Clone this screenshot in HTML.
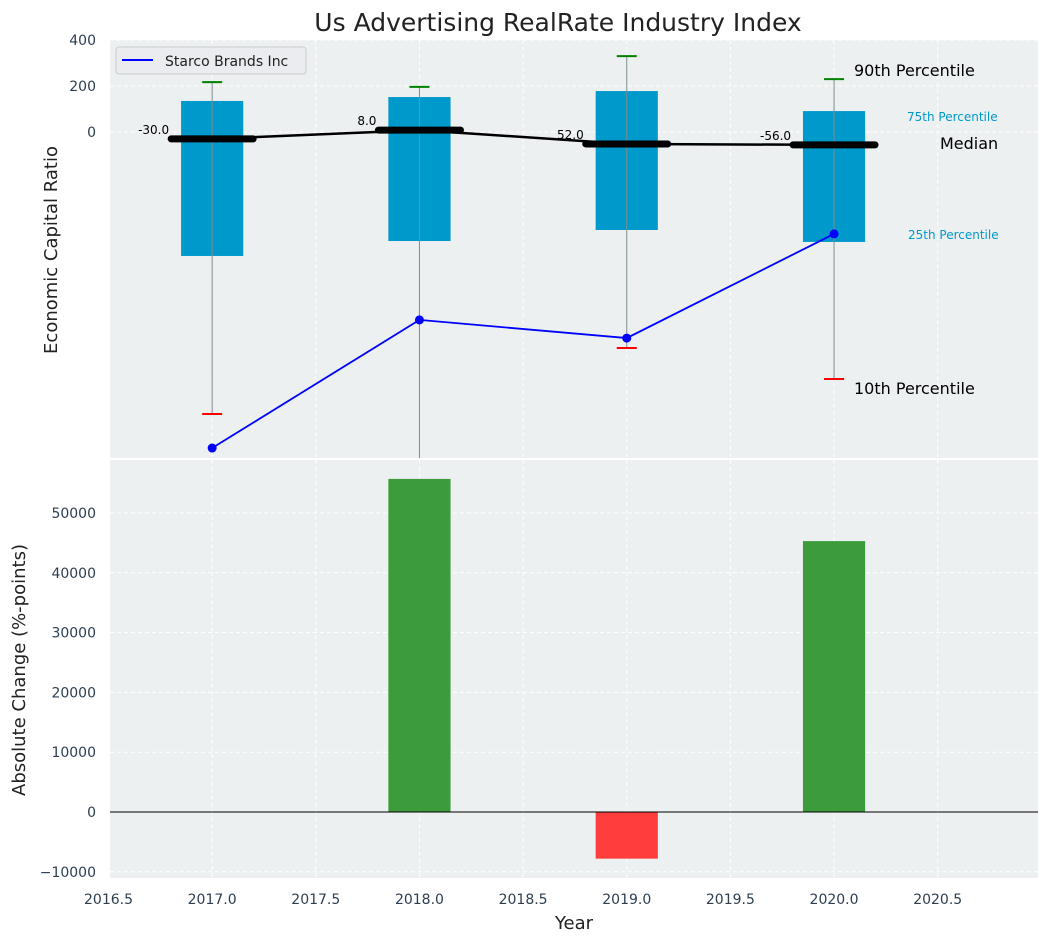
<!DOCTYPE html>
<html><head><meta charset="utf-8">
<style>
body{margin:0;background:#fff;}
svg{display:block;font-family:"DejaVu Sans","Liberation Sans",sans-serif;}
</style></head>
<body>
<svg id="chart" width="1048" height="942" viewBox="0 0 1048 942"></svg>
<script>
const years = [2017, 2018, 2019, 2020];
const p90 = [217, 196, 330, 230];
const p75 = [135, 152, 178, 91];
const medians = [-30, 8, -52, -56];
const p25 = [-539, -474, -426, -478];
const p10 = [-1226, -1500, -939, -1074];
const company = [-1374, -817, -896, -443];
const changes = [0, 55700, -7800, 45300];
const xTicks = [2016.5, 2017.0, 2017.5, 2018.0, 2018.5, 2019.0, 2019.5, 2020.0, 2020.5];
const topTicks = [400, 200, 0];
const botTicks = [-10000, 0, 10000, 20000, 30000, 40000, 50000];

const svg = document.getElementById('chart');
const NS = 'http://www.w3.org/2000/svg';
function mk(tag, attrs, parent) {
  const e = document.createElementNS(NS, tag);
  for (const k in attrs) e.setAttribute(k, attrs[k]);
  (parent || svg).appendChild(e);
  return e;
}
const L = 110, R = 1038, PX = 207.3;
const x = v => 108.5 + (v - 2016.5) * PX;
const yT = v => 132 - v * 0.23;
const yB = v => 812 - v * 299 / 50000;
const T0 = 40, T1 = 458, B0 = 460, B1 = 878;

let t = mk('text', {x: 558, y: 31, 'text-anchor': 'middle', 'font-size': 25, fill: '#222'});
t.textContent = 'Us Advertising RealRate Industry Index';
 

let bg1 = mk('rect', {x: L, y: T0, width: R - L, height: T1 - T0, fill: '#ecf0f1'});
 
let bg2 = mk('rect', {x: L, y: B0, width: R - L, height: B1 - B0, fill: '#ecf0f1'});
 

xTicks.forEach(v => {
  mk('line', {x1: x(v), x2: x(v), y1: T0, y2: T1, stroke: '#fff', 'stroke-dasharray': '4,3', 'stroke-width': 1});
  mk('line', {x1: x(v), x2: x(v), y1: B0, y2: B1, stroke: '#fff', 'stroke-dasharray': '4,3', 'stroke-width': 1});
  let l = mk('text', {x: x(v), y: 904, 'text-anchor': 'middle', 'font-size': 14, fill: '#2c3e50'});
  l.textContent = v.toFixed(1);
   
});
topTicks.forEach(v => {
  mk('line', {x1: L, x2: R, y1: yT(v), y2: yT(v), stroke: '#fff', 'stroke-dasharray': '4,3'});
  let l = mk('text', {x: 96, y: yT(v) + 5, 'text-anchor': 'end', 'font-size': 14, fill: '#2c3e50'});
  l.textContent = v;
   
});
botTicks.forEach(v => {
  mk('line', {x1: L, x2: R, y1: yB(v), y2: yB(v), stroke: '#fff', 'stroke-dasharray': '4,3'});
  let l = mk('text', {x: 96, y: yB(v) + 5, 'text-anchor': 'end', 'font-size': 14, fill: '#2c3e50'});
  l.textContent = v < 0 ? '\u2212' + Math.abs(v) : v;
   
});

const defs = mk('defs', {});
const cp = mk('clipPath', {id: 'ctop'}, defs);
mk('rect', {x: L, y: T0, width: R - L, height: T1 - T0}, cp);
const g = mk('g', {'clip-path': 'url(#ctop)'});
 

years.forEach((yr, i) => {
  const cx = x(yr), hw = 0.15 * PX;
  let b = mk('rect', {x: cx - hw, y: yT(p75[i]), width: 2 * hw, height: yT(p25[i]) - yT(p75[i]), fill: '#0099cc'}, g);
   
  let w = mk('line', {x1: cx, x2: cx, y1: yT(p90[i]), y2: yT(p10[i]), stroke: '#7f8c8d', 'stroke-width': 1}, g);
   
  let c1 = mk('line', {x1: cx - 10, x2: cx + 10, y1: yT(p90[i]), y2: yT(p90[i]), stroke: 'green', 'stroke-width': 2}, g);
   
  let c2 = mk('line', {x1: cx - 10, x2: cx + 10, y1: yT(p10[i]), y2: yT(p10[i]), stroke: 'red', 'stroke-width': 2}, g);
   
});
let mpath = years.map((yr, i) => (i ? 'L' : 'M') + x(yr) + ',' + yT(medians[i])).join('');
let ml = mk('path', {d: mpath, stroke: '#000', 'stroke-width': 2.5, fill: 'none'}, g);
 
years.forEach((yr, i) => {
  const cx = x(yr);
  let m = mk('line', {x1: cx - 41, x2: cx + 41, y1: yT(medians[i]), y2: yT(medians[i]), stroke: '#000', 'stroke-width': 7, 'stroke-linecap': 'round'}, g);
   
  let l = mk('text', {x: cx - 43, y: yT(medians[i]) - 5, 'text-anchor': 'end', 'font-size': 12, fill: '#000'}, g);
  l.textContent = (i === 2 ? Math.abs(medians[i]) : medians[i]).toFixed(1);
   
});
let cpath = years.map((yr, i) => (i ? 'L' : 'M') + x(yr) + ',' + yT(company[i])).join('');
let cl = mk('path', {d: cpath, stroke: 'blue', 'stroke-width': 1.8, fill: 'none'}, g);
 
years.forEach((yr, i) => {
  let p = mk('circle', {cx: x(yr), cy: yT(company[i]), r: 4.5, fill: 'blue'}, g);
   
});

[['90th Percentile', 854, 76, 16, '#000'], ['75th Percentile', 907, 121, 12, '#0099cc'], ['Median', 940, 149, 16, '#000'],
 ['25th Percentile', 908, 239, 12, '#0099cc'], ['10th Percentile', 854, 394, 16, '#000']].forEach(a => {
  let l = mk('text', {x: a[1], y: a[2], 'font-size': a[3], fill: a[4]});
  l.textContent = a[0];
   
});

const lg = mk('g', {});
 
mk('rect', {x: 116, y: 47, width: 190, height: 27, rx: 3, fill: '#eaecf0', stroke: '#ccc'}, lg);
mk('line', {x1: 122, x2: 153, y1: 60, y2: 60, stroke: 'blue', 'stroke-width': 2}, lg);
let lt = mk('text', {x: 165, y: 66, 'font-size': 14, fill: '#222'}, lg);
lt.textContent = 'Starco Brands Inc';

years.forEach((yr, i) => {
  const v = changes[i];
  if (v === 0) return;
  const cx = x(yr), hw = 0.15 * PX;
  let b = mk('rect', {x: cx - hw, y: Math.min(yB(v), yB(0)), width: 2 * hw, height: Math.abs(yB(v) - yB(0)), fill: v >= 0 ? '#3c9c3c' : '#ff3d3d'});
   
});
let zl = mk('line', {x1: L, x2: R, y1: yB(0), y2: yB(0), stroke: '#000', 'stroke-width': 1});
 

let a1 = mk('text', {x: 57, y: 250, 'text-anchor': 'middle', 'font-size': 18, fill: '#222', transform: 'rotate(-90 57 250)'});
a1.textContent = 'Economic Capital Ratio';
 
let a2 = mk('text', {x: 25, y: 670, 'text-anchor': 'middle', 'font-size': 18, fill: '#222', transform: 'rotate(-90 25 670)'});
a2.textContent = 'Absolute Change (%-points)';
 
let a3 = mk('text', {x: 574, y: 929, 'text-anchor': 'middle', 'font-size': 18, fill: '#222'});
a3.textContent = 'Year';
 
</script>
</body></html>
